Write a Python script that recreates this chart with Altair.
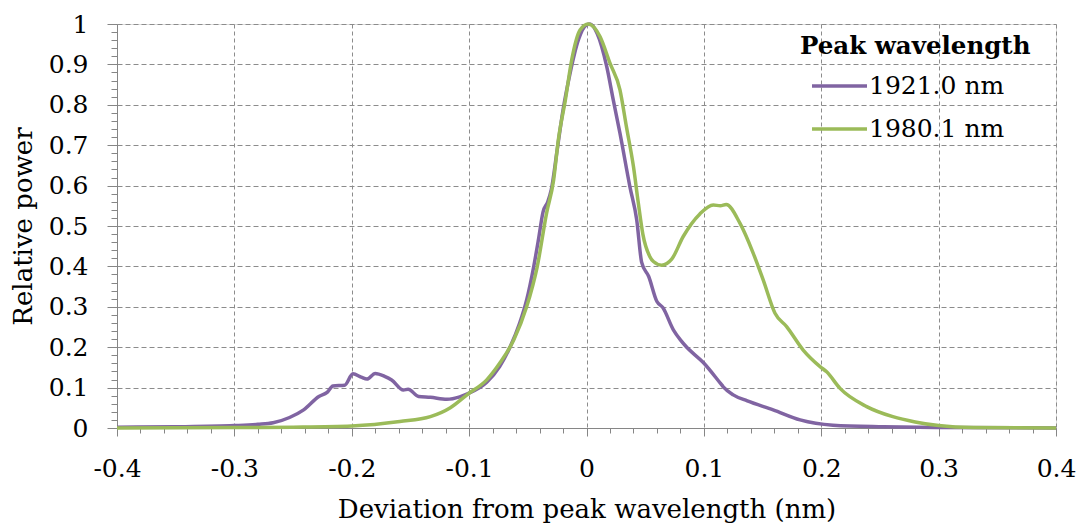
import altair as alt
import pandas as pd

# ---- data ----
SERIES = ["1921.0 nm", "1980.1 nm"]
COLORS = ["#8064A2", "#9BBB59"]

x_1921 = [-0.4, -0.35, -0.30, -0.28, -0.267, -0.253, -0.241, -0.228, -0.221, -0.216,
          -0.206, -0.199, -0.192, -0.187, -0.180, -0.172, -0.166, -0.156, -0.152, -0.143,
          -0.133, -0.119, -0.108, -0.101, -0.085, -0.074, -0.065, -0.057, -0.051, -0.045,
          -0.041, -0.037, -0.033, -0.030, -0.025, -0.020, -0.014, -0.007, 0.000, 0.003,
          0.009, 0.0172, 0.0228, 0.0285, 0.037, 0.0428, 0.047, 0.053, 0.060,
          0.065, 0.074, 0.080, 0.085, 0.0995, 0.114, 0.1165, 0.125, 0.137, 0.159,
          0.182, 0.21, 0.253, 0.3, 0.4]
y_1921 = [0.002, 0.003, 0.006, 0.009, 0.013, 0.026, 0.045, 0.078, 0.088, 0.104,
          0.106, 0.134, 0.126, 0.121, 0.135, 0.128, 0.119, 0.094, 0.096, 0.078,
          0.076, 0.071, 0.077, 0.085, 0.113, 0.152, 0.201, 0.259, 0.317, 0.399,
          0.465, 0.535, 0.560, 0.590, 0.688, 0.787, 0.878, 0.960, 0.998, 1.0,
          0.977, 0.895, 0.812, 0.730, 0.597, 0.515, 0.410, 0.375, 0.313,
          0.298, 0.243, 0.218, 0.201, 0.162, 0.111, 0.102, 0.082, 0.067, 0.045,
          0.020, 0.007, 0.003, 0.001, 0.0]

x_1980 = [-0.4, -0.3, -0.25, -0.2, -0.159, -0.133, -0.116, -0.101, -0.085, -0.074,
          -0.062, -0.051, -0.042, -0.034, -0.028, -0.024, -0.018, -0.0126, -0.0055, 0.0015,
          0.0115, 0.020, 0.0285, 0.034, 0.040, 0.044, 0.048, 0.054, 0.057, 0.064,
          0.0726, 0.0824, 0.0966, 0.108, 0.114, 0.119, 0.1307, 0.142, 0.1506, 0.1606,
          0.1705, 0.1846, 0.199, 0.2046, 0.216, 0.2387, 0.261, 0.28, 0.30, 0.33, 0.4]
y_1980 = [0.0, 0.001, 0.002, 0.005, 0.016, 0.028, 0.050, 0.084, 0.119, 0.160,
          0.218, 0.300, 0.399, 0.532, 0.614, 0.713, 0.812, 0.911, 0.985, 1.0,
          0.969, 0.903, 0.837, 0.746, 0.647, 0.560, 0.480, 0.424, 0.412, 0.403,
          0.418, 0.474, 0.530, 0.552, 0.550, 0.553, 0.507, 0.433, 0.366, 0.284,
          0.251, 0.193, 0.152, 0.139, 0.098, 0.053, 0.028, 0.015, 0.006, 0.001, 0.0]

X_TICKS = [round(-0.4 + 0.02 * i, 2) for i in range(41)]
Y_TICKS = [round(0.02 * i, 2) for i in range(51)]

df1 = pd.DataFrame({"x": x_1921, "y": y_1921, "s": SERIES[0]})
df2 = pd.DataFrame({"x": x_1980, "y": y_1980, "s": SERIES[1]})

FONT = "DejaVu Serif"
GRID = "#8C8C8C"
AXC = "#868686"
MAJOR = "abs(datum.value*10 - round(datum.value*10)) < 0.001"

x_axis = alt.Axis(
    values=X_TICKS,
    labelExpr=f"({MAJOR}) ? ('' + datum.value) : ''",
    title="Deviation from peak wavelength (nm)",
    titleFont=FONT, titleFontSize=26, titleFontWeight="normal", titleColor="#000000",
    titlePadding=15,
    labelFont=FONT, labelFontSize=25, labelColor="#000000", labelPadding=20,
    labelFlush=False, labelOverlap=False,
    domainColor=AXC, tickColor=AXC,
    tickSize={"condition": {"test": MAJOR, "value": 8}, "value": 5},
    grid=True, gridColor=GRID, gridDash=[4, 3],
    gridOpacity={"condition": {"test": MAJOR, "value": 1}, "value": 0},
)
y_axis = alt.Axis(
    values=Y_TICKS,
    labelExpr=f"({MAJOR}) ? ('' + datum.value) : ''",
    title="Relative power",
    titleFont=FONT, titleFontSize=26, titleFontWeight="normal", titleColor="#000000",
    titlePadding=12,
    labelFont=FONT, labelFontSize=25, labelColor="#000000", labelPadding=19,
    labelFlush=False, labelOverlap=False,
    domainColor=AXC, tickColor=AXC,
    tickSize={"condition": {"test": MAJOR, "value": 10}, "value": 6},
    grid=True, gridColor=GRID, gridDash=[5, 3],
    gridOpacity={"condition": {"test": MAJOR, "value": 1}, "value": 0},
)

color = alt.Color(
    "s:N",
    scale=alt.Scale(domain=SERIES, range=COLORS),
    legend=alt.Legend(
        title="Peak wavelength",
        titleFont=FONT, titleFontSize=24.5, titleFontWeight="bold", titleColor="#000000",
        titleLimit=500, labelLimit=500,
        labelFont=FONT, labelFontSize=25, labelColor="#000000",
        symbolType="stroke", symbolSize=3025, symbolStrokeWidth=3.5,
        symbolOffset=10,
        labelOffset=0, orient="none", legendX=683, legendY=11,
        rowPadding=-14, titlePadding=-3,
    ),
)

xs = alt.X("x:Q", scale=alt.Scale(domain=[-0.4, 0.4], nice=False), axis=x_axis)
ys = alt.Y("y:Q", scale=alt.Scale(domain=[0, 1], nice=False), axis=y_axis)

l1 = alt.Chart(df1).mark_line(strokeWidth=3.5, interpolate="monotone").encode(x=xs, y=ys, color=color)
l2 = alt.Chart(df2).mark_line(strokeWidth=3.5, interpolate="monotone").encode(x=xs, y=ys, color=color)

chart = alt.layer(l1, l2).properties(
    width=939, height=404,
    autosize=alt.AutoSizeParams(type="none"),
    padding={"left": 109, "top": 16, "right": 20, "bottom": 102},
).configure_view(stroke=AXC, strokeWidth=1).configure(background="white")

chart.save("out.html", embed_options={"renderer": "svg", "actions": False})
